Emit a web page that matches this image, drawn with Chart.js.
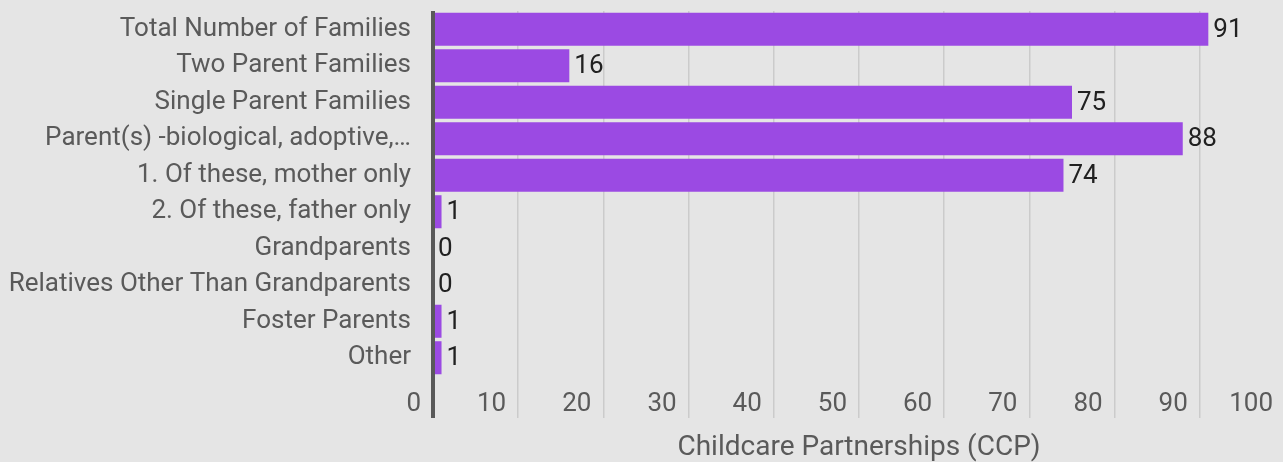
<!DOCTYPE html>
<html>
<head>
<meta charset="utf-8">
<script src="https://cdn.jsdelivr.net/npm/chart.js@4.4.1/dist/chart.umd.min.js"></script>
<style>
  html, body { margin: 0; padding: 0; overflow: hidden; background: #e5e5e5; }
  #wrap { position: relative; width: 1285px; height: 462px; }
</style>
</head>
<body>
<div id="wrap"><canvas id="ccpChart"></canvas></div>
<script>
// chart data
const categories = [
    'Total Number of Families',
    'Two Parent Families',
    'Single Parent Families',
    'Parent(s) -biological, adoptive,\u2026',
    '1. Of these, mother only',
    '2. Of these, father only',
    'Grandparents',
    'Relatives Other Than Grandparents',
    'Foster Parents',
    'Other'
];
const ccpValues = [91, 16, 75, 88, 74, 1, 0, 0, 1, 1];
const xTicks = [0, 10, 20, 30, 40, 50, 60, 70, 80, 90, 100];
const axisTitle = 'Childcare Partnerships (CCP)';

const FONT = 'Roboto';
const GREY = '#5a5a5a';

// numbers at the end of each bar
const barValueLabels = {
    id: 'barValueLabels',
    afterDatasetsDraw(chart) {
        const ctx = chart.ctx;
        const meta = chart.getDatasetMeta(0);
        ctx.save();
        ctx.font = '26px ' + FONT;
        ctx.fillStyle = '#212121';
        ctx.textAlign = 'left';
        ctx.textBaseline = 'middle';
        meta.data.forEach((bar, i) => {
            ctx.fillText(String(ccpValues[i]), bar.x + 5, bar.y + 1);
        });
        ctx.restore();
    }
};

new Chart(document.getElementById('ccpChart'), {
    type: 'bar',
    data: {
        labels: categories,
        datasets: [{
            data: ccpValues,
            backgroundColor: '#9b4ae3',
            borderWidth: 0,
            barPercentage: 0.905,
            categoryPercentage: 1
        }]
    },
    options: {
        indexAxis: 'y',
        responsive: true,
        maintainAspectRatio: false,
        animation: false,
        layout: { padding: { top: 11, right: 0, left: 0, bottom: 0 } },
        plugins: {
            legend: { display: false },
            tooltip: { enabled: false }
        },
        scales: {
            x: {
                min: 0,
                max: 100,
                afterBuildTicks: scale => {
                    scale.ticks = xTicks.map(v => ({ value: v }));
                },
                afterFit: scale => {
                    scale.height = 86;
                    scale.paddingLeft = 0;
                    scale.paddingRight = 0;
                },
                border: { display: false },
                grid: {
                    drawTicks: true,
                    tickLength: 42,
                    color: ctx => ctx.tick && ctx.tick.value === 0 ? '#595959' : '#cbcbcb',
                    lineWidth: ctx => ctx.tick && ctx.tick.value === 0 ? 4 : 1.5
                },
                ticks: {
                    align: 'end',
                    labelOffset: -12,
                    padding: -29,
                    color: GREY,
                    font: { family: FONT, size: 26 }
                },
                title: {
                    display: true,
                    text: axisTitle,
                    color: GREY,
                    font: { family: FONT, size: 28 },
                    padding: { top: 0, bottom: -3 }
                }
            },
            y: {
                afterFit: scale => {
                    scale.width = 433;
                    scale.paddingTop = 0;
                    scale.paddingBottom = 0;
                },
                border: { display: false },
                grid: { display: false, drawTicks: false },
                ticks: {
                    autoSkip: false,
                    padding: 22,
                    color: GREY,
                    font: { family: FONT, size: 26 }
                }
            }
        }
    },
    plugins: [barValueLabels]
});
</script>
</body>
</html>
